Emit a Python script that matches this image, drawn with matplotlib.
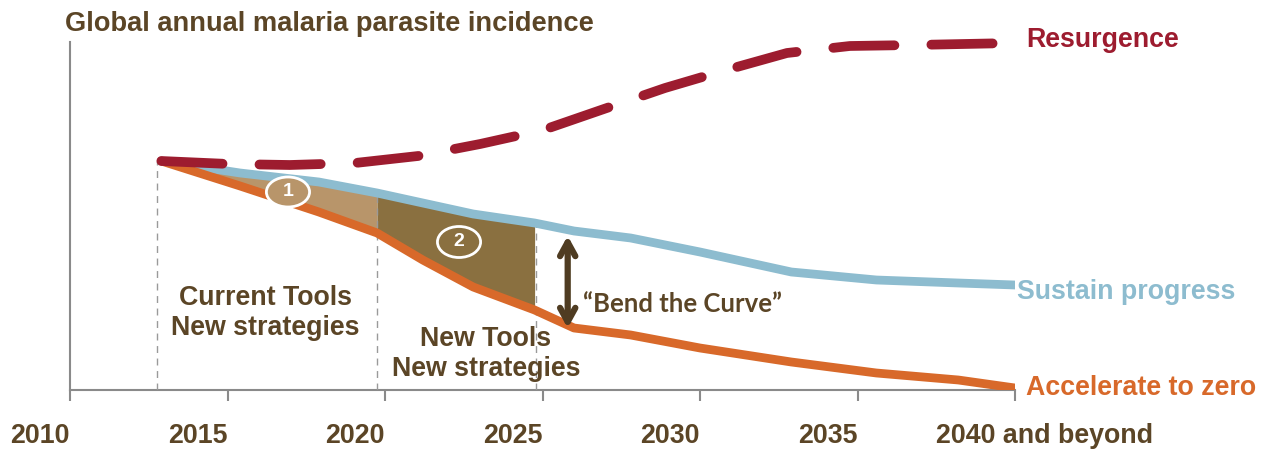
import numpy as np
import matplotlib.pyplot as plt
from matplotlib.patches import Ellipse

# shared x grid for the two lower curves (years)
years = [2012.9, 2015.4, 2017.9, 2019.75, 2021.2, 2022.8, 2024.75, 2026.0,
         2027.8, 2030.0, 2032.9, 2035.6, 2038.2, 2040.0]
sustain = [229, 217, 208, 197, 187, 176, 167, 159, 152, 138, 118, 110, 107, 105]
accelerate = [229, 204, 178, 157, 130, 103, 80, 62, 55, 42, 28, 17, 10, 2]

res_years = [2012.9, 2015.05, 2016.98, 2019.05, 2021.05, 2023.02, 2025.02,
             2026.95, 2028.89, 2030.83, 2032.76, 2034.76, 2036.79, 2039.94]
resurgence = [229, 226, 225, 227, 234, 246, 260, 281, 302, 320, 337, 344, 345, 347]

tick_years = [2010, 2015, 2020, 2025, 2030, 2035]
phase_lines = [2012.76, 2019.75, 2024.8]

brown = "#5b4526"
blue = "#8dbccf"
orange = "#d8692a"
red = "#9d1c2f"
tan = "#b8956a"
dark = "#8a7040"
fs = 19.3

plt.rcParams["font.family"] = ["Liberation Sans", "DejaVu Sans"]
plt.rcParams["font.weight"] = "bold"

fig = plt.figure(figsize=(12.7, 4.5), dpi=100)
ax = fig.add_axes([70 / 1270, 60 / 450, 945 / 1270, 348 / 450])
ax.set_xlim(2010, 2040)
ax.set_ylim(0, 348)

for s in ["top", "right"]:
    ax.spines[s].set_visible(False)
for s in ["left", "bottom"]:
    ax.spines[s].set_color("#8a8a8a")
    ax.spines[s].set_linewidth(1.5)
ax.set_yticks([])
ax.set_xticks(tick_years + [2040])
ax.set_xticklabels([])
ax.tick_params(axis="x", direction="out", length=8, width=1.5, color="#8a8a8a")

x = np.array(years)
yb = np.array(sustain)
yo = np.array(accelerate)

# shaded phases
m1 = (x >= years[0]) & (x <= 2019.75)
ax.fill_between(x[m1], yo[m1], yb[m1], color=tan, lw=0, zorder=2)
m2 = (x >= 2019.75) & (x <= 2024.75)
ax.fill_between(x[m2], yo[m2], yb[m2], color=dark, lw=0, zorder=2)

# phase dividers
tops = [229, 197, 167]
for px, top in zip(phase_lines, tops):
    ax.plot([px, px], [0, top], color="#9a9a9a", lw=1, ls=(0, (5, 4)), zorder=3)

ax.plot(years, sustain, color=blue, lw=6.3, solid_capstyle="round",
        solid_joinstyle="round", zorder=4)
ax.plot(years, accelerate, color=orange, lw=6.3, solid_capstyle="round",
        solid_joinstyle="round", zorder=4)
ax.plot(res_years, resurgence, color=red, lw=7, ls=(0, (6.3, 3.8)),
        dash_capstyle="round", clip_on=False, zorder=5)

# numbered markers
ax.add_patch(Ellipse((2016.92, 198), 1.37, 30, facecolor=tan, edgecolor="white",
                     lw=2, zorder=6))
ax.text(2016.92, 198, "1", color="white", fontsize=14, ha="center", va="center", zorder=7)
ax.add_patch(Ellipse((2022.35, 148), 1.37, 31, facecolor="none", edgecolor="white",
                     lw=2, zorder=6))
ax.text(2022.35, 148, "2", color="white", fontsize=14, ha="center", va="center", zorder=7)

# bend-the-curve arrow
ax.annotate("", xy=(2025.8, 157), xytext=(2025.8, 59),
            arrowprops=dict(arrowstyle="<->,head_length=1.0,head_width=0.55",
                            color="#4f3c22", lw=4.5), zorder=6)
ax.text(2026.3, 86, "\u201cBend the Curve\u201d", color=brown, fontsize=18.5,
        family=["Lato", "DejaVu Sans"], ha="left", va="center")

ax.text(2016.2, 77, "Current Tools\nNew strategies", color=brown, fontsize=fs,
        ha="center", va="center", linespacing=1.2)
ax.text(2023.2, 36, "New Tools\nNew strategies", color=brown, fontsize=fs,
        ha="center", va="center", linespacing=1.2)

ax.text(2040.05, 98, "Sustain progress", color=blue, fontsize=fs, ha="left",
        va="center", clip_on=False)
ax.text(2040.35, 2, "Accelerate to zero", color=orange, fontsize=fs, ha="left",
        va="center", clip_on=False)
ax.text(2040.35, 350, "Resurgence", color=red, fontsize=fs, ha="left",
        va="center", clip_on=False)

# year labels sit right-aligned on their ticks
for t in tick_years:
    ax.text(t, -46, str(t), color=brown, fontsize=fs, ha="right", va="center",
            clip_on=False)
ax.text(2037.5, -46, "2040 and beyond", color=brown, fontsize=fs, ha="left",
        va="center", clip_on=False)

fig.text(65 / 1270, 1 - 24 / 450, "Global annual malaria parasite incidence",
         color=brown, fontsize=19.6, ha="left", va="center")

fig.savefig("out.png", dpi=100)
